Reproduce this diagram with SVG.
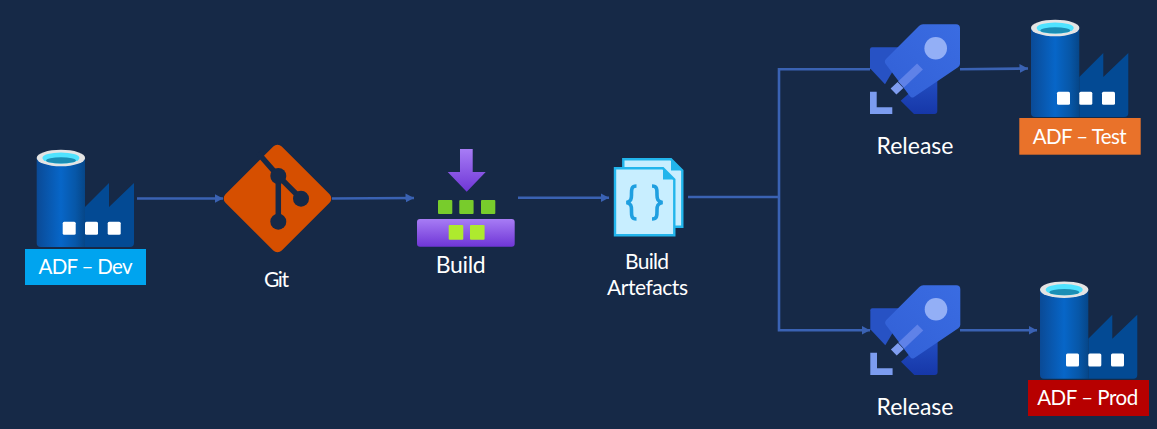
<svg xmlns="http://www.w3.org/2000/svg" width="1157" height="429" viewBox="0 0 1157 429">
<style>
text{font-family:"Lato","Open Sans","Liberation Sans",sans-serif;font-size:21px;fill:#fff;text-anchor:middle}
.link{fill:none;stroke:#3a62b3;stroke-width:2.600}
.lbl{font-size:20.500px}
.big{font-size:23px}
.brace{fill:none;stroke:#1f9fe0;stroke-width:3.600}
</style>
<defs>
<marker id="arrow" markerUnits="userSpaceOnUse" markerWidth="10" markerHeight="10" refX="8.500" refY="5" orient="auto"><path d="M0 .5L8.500 5L0 9.500Z" fill="#3a62b3"/></marker>
<linearGradient id="cyl" x1="0" x2="1" y1="0" y2="0"><stop offset="0" stop-color="#0a4a96"/><stop offset=".5" stop-color="#0766c8"/><stop offset=".8" stop-color="#0757a8"/><stop offset="1" stop-color="#064688"/></linearGradient>
<linearGradient id="purple" x1="0" x2="0" y1="0" y2="1"><stop offset="0" stop-color="#a77cf5"/><stop offset="1" stop-color="#6f36d6"/></linearGradient>
<linearGradient id="rbody" x1="1" x2="0" y1="0" y2="1"><stop offset="0" stop-color="#3a6ce2"/><stop offset="1" stop-color="#3260d6"/></linearGradient>
<linearGradient id="rback" x1="0" x2="0" y1="0" y2="1"><stop offset="0" stop-color="#2450c4"/><stop offset="1" stop-color="#1637a8"/></linearGradient>
<g id="factory">
<path d="M85 250V207L109 183V207L134 183V243a4 4 0 0 1-4 4H85Z" fill="#034a94"/>
<path d="M36.700 158V243a4 4 0 0 0 4 4H85V158Z" fill="url(#cyl)"/>
<ellipse cx="60.900" cy="158" rx="24.200" ry="8.300" fill="#e4e4e4"/>
<ellipse cx="60.900" cy="158" rx="18.500" ry="5.600" fill="#50e3ff"/>
<path d="M46 160.500a15 3.200 0 0 1 30 0a15 3 0 0 1-30 0Z" fill="#1b8eb5"/>
<rect x="62.700" y="221.700" width="13" height="13" rx="1.500" fill="#fff"/>
<rect x="85" y="221.700" width="13" height="13" rx="1.500" fill="#fff"/>
<rect x="107.700" y="221.700" width="13" height="13" rx="1.500" fill="#fff"/>
</g>
<g id="rocket">
<path d="M872 47.300H907L885 84.300L870 68.300V49.300a2 2 0 0 1 2-2Z" fill="#2752c4"/>
<path d="M937.300 76V111a3 3 0 0 1-3 3H914L900.700 100.700L915 88Z" fill="url(#rback)"/>
<path d="M923 24.300H956a4 4 0 0 1 4 4V64a4 4 0 0 1-2 3.200L914 97a3 3 0 0 1-4-.8L885.700 64a4 4 0 0 1 .3-5L919 26a6 6 0 0 1 4-1.700Z" fill="url(#rbody)"/>
<circle cx="935.700" cy="48.300" r="11.300" fill="#93aff6"/>
<path d="M920 66.500L901 84.500" stroke="#5f82e8" stroke-width="8.500" fill="none"/>
<path d="M900.500 85L893.500 91.500" stroke="#7f9df0" stroke-width="8.500" fill="none"/>
<path d="M870 91.700H876.700V107.300H892.300V114H870Z" fill="#7c9cf0"/>
</g>
</defs>
<rect id="background" width="1157" height="429" fill="#162947"/>
<g id="connectors">
<path class="link" d="M137 198.500H223" marker-end="url(#arrow)"/>
<path class="link" d="M332 198.500L414 198" marker-end="url(#arrow)"/>
<path class="link" d="M518 197.700H609" marker-end="url(#arrow)"/>
<path class="link" d="M688 197H779"/>
<path class="link" d="M870 69.300H779V330.300H870" marker-end="url(#arrow)"/>
<path class="link" d="M960 69.300L1028 68.500" marker-end="url(#arrow)"/>
<path class="link" d="M960 330.300H1037" marker-end="url(#arrow)"/>
</g>
<g id="adf-dev">
<use href="#factory"/>
<rect x="25" y="249" width="121" height="36" fill="#00a4ef"/>
<text class="lbl" x="85.500" y="274.300" textLength="94">ADF – Dev</text>
</g>
<g id="git">
<rect x="237.700" y="158.700" width="79.600" height="79.600" rx="6" transform="rotate(45 277.500 198.500)" fill="#d64f00"/>
<path d="M258 153L278.300 176L301 198.700M278.300 176V221.700" fill="none" stroke="#162947" stroke-width="5.500"/>
<circle cx="278.300" cy="176" r="8" fill="#162947"/>
<circle cx="301" cy="198.700" r="8" fill="#162947"/>
<circle cx="278.300" cy="221.700" r="8" fill="#162947"/>
<text x="276.500" y="287" textLength="25">Git</text>
</g>
<g id="build">
<path d="M460 149H472.700V172H485.700L466.700 191.700L447.700 172H460Z" fill="url(#purple)"/>
<rect x="438" y="200" width="14.300" height="14" rx="1" fill="#78cc2c"/>
<rect x="459.300" y="200" width="14.300" height="14" rx="1" fill="#78cc2c"/>
<rect x="481" y="200" width="14.300" height="14" rx="1" fill="#78cc2c"/>
<rect x="417" y="219" width="97.700" height="27.700" rx="3" fill="url(#purple)"/>
<rect x="448.700" y="225" width="14.600" height="14.700" rx="1" fill="#aeea2e"/>
<rect x="470" y="225" width="14.600" height="14.700" rx="1" fill="#aeea2e"/>
<text class="big" x="460.700" y="272.700" textLength="50">Build</text>
</g>
<g id="build-artefacts">
<path d="M623.300 159.300H671L682.300 170.500V226.700H623.300Z" fill="#c8eeff" stroke="#22b5ec" stroke-width="2.400"/>
<path d="M671 159.300V170.500H682.300Z" fill="#22b5ec"/>
<path d="M615 168.300H663L674.300 179.500V235.300H615Z" fill="#c8eeff" stroke="#22b5ec" stroke-width="2.400"/>
<path d="M663 168.300V179.500H674.300Z" fill="#22b5ec"/>
<path class="brace" d="M636.500 186C631 186 631.500 190 631.500 195C631.500 199 631 201.500 626.500 202.500C631 203.500 631.500 206 631.500 210C631.500 215 631 219 636.500 219"/>
<path class="brace" d="M652 186C657.500 186 657 190 657 195C657 199 657.500 201.500 662.500 202.500C657.500 203.500 657 206 657 210C657 215 657.500 219 652 219"/>
<text x="647" y="269" textLength="44">Build</text>
<text x="647.500" y="295" textLength="81">Artefacts</text>
</g>
<g id="release-test">
<use href="#rocket"/>
<text class="big" x="915" y="154.300" textLength="77">Release</text>
</g>
<g id="release-prod">
<use href="#rocket" x=".3" y="261"/>
<text class="big" x="915" y="415.300" textLength="77">Release</text>
</g>
<g id="adf-test">
<use href="#factory" x="994.300" y="-130"/>
<rect x="1019.300" y="118" width="121.400" height="36.700" fill="#e9722a"/>
<text class="lbl" x="1079.700" y="144" textLength="94">ADF – Test</text>
</g>
<g id="adf-prod">
<use href="#factory" x="1003.300" y="131.700"/>
<rect x="1028" y="380" width="121" height="36" fill="#b70000"/>
<text class="lbl" x="1087.700" y="405" textLength="101">ADF – Prod</text>
</g>
</svg>
